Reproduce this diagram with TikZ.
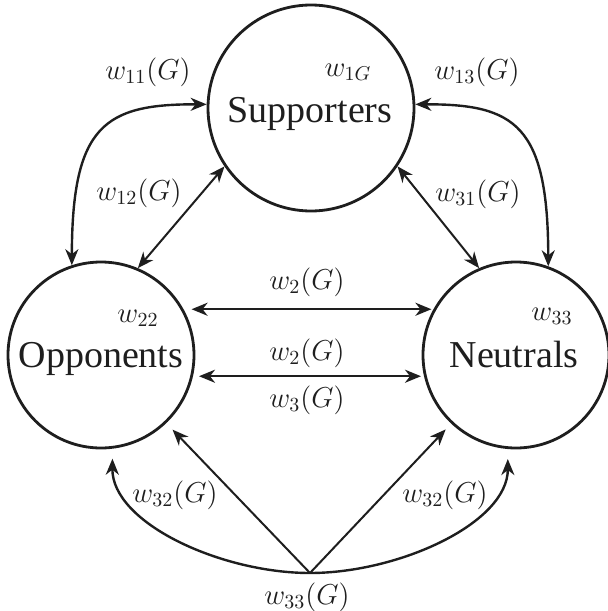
\documentclass[tikz,border=0pt]{standalone}
\usepackage{fontspec}
\setmainfont{Liberation Serif}
\usetikzlibrary{arrows.meta}
\definecolor{ink}{HTML}{1E1E1E}
\begin{document}
\begin{tikzpicture}[x=0.5pt,y=-0.5pt,
  grp/.style={circle,draw=ink,line width=1.4pt,inner sep=0pt},
  grpname/.style={font=\fontsize{19}{22}\selectfont,text=ink,inner sep=0pt,anchor=base},
  wt/.style={font=\fontsize{14.4}{16}\selectfont,text=ink,inner sep=0pt},
  link/.style={draw=ink,line width=1.2pt,{Stealth[length=8pt,width=6.5pt,inset=2.5pt]}-{Stealth[length=8pt,width=6.5pt,inset=2.5pt]}},
  thinlink/.style={draw=ink,line width=1pt,{Stealth[length=8pt,width=6.5pt,inset=2.5pt]}-{Stealth[length=8pt,width=6.5pt,inset=2.5pt]}},
  onelink/.style={draw=ink,line width=1pt,-{Stealth[length=8pt,width=6.5pt,inset=2.5pt]}},
  onecurve/.style={draw=ink,line width=1.2pt,-{Stealth[length=8pt,width=6.5pt,inset=2.5pt]}}
]
\useasboundingbox (0,0) rectangle (607,611);

% groups
\node[grp,minimum size=103pt] (sup) at (311,108) {};
\node[grp,minimum size=93pt] (opp) at (101,355) {};
\node[grp,minimum size=93pt] (neu) at (516,355) {};

\node[grpname] (tsup) at (310,122) {Supporters};
\node[grpname] (topp) at (101,367) {Opponents};
\node[grpname] (tneu) at (514,367) {Neutrals};

% self weights
\node[wt] (w1g) at (348,72) {$w_{1G}$};
\node[wt] (w22) at (138,318) {$w_{22}$};
\node[wt] (w33) at (552,316) {$w_{33}$};

% bottom apex
\coordinate (bot) at (310,573);

% upper links
\draw[link] (opp.108) .. controls (72,125) and (105,104) .. (sup.178);
\draw[link] (neu.70) .. controls (548,125) and (515,104) .. (sup.2);
\draw[thinlink] (opp.67) -- (sup.214);
\draw[thinlink] (neu.113) -- (sup.326);

% horizontal links
\draw[link,shorten <=4pt,shorten >=1pt] (opp.29) -- (neu.151);
\draw[link,shorten <=3pt,shorten >=1.5pt] (opp.-13) -- (neu.193);

% bottom links
\draw[onelink,shorten >=4.5pt] (bot) -- (opp);
\draw[onelink,shorten >=4pt] (bot) -- (neu);
\draw[onecurve,shorten >=5pt] (bot) .. controls (221,573) and (112,523) .. (opp.-83);
\draw[onecurve,shorten >=5pt] (bot) .. controls (399,573) and (508,523) .. (neu.-95);

% weight labels
\node[wt] (l11) at (148,72) {$w_{11}(G)$};
\node[wt] (l13) at (477,72) {$w_{13}(G)$};
\node[wt] (l12) at (139,193) {$w_{12}(G)$};
\node[wt] (l31) at (478,194) {$w_{31}(G)$};
\node[wt] (l2a) at (307,282) {$w_{2}(G)$};
\node[wt] (l2b) at (307,353) {$w_{2}(G)$};
\node[wt] (l3) at (307,400) {$w_{3}(G)$};
\node[wt] (l32a) at (175,495) {$w_{32}(G)$};
\node[wt] (l32b) at (445,495) {$w_{32}(G)$};
\node[wt] (l33) at (307,597) {$w_{33}(G)$};
\end{tikzpicture}
\end{document}
